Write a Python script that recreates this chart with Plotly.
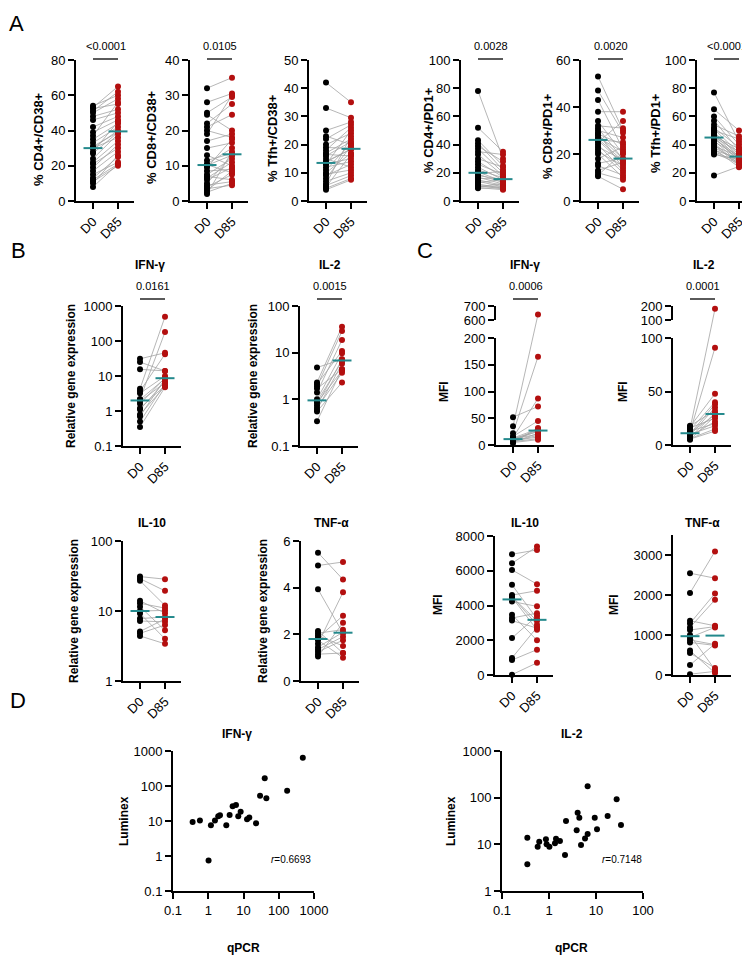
import numpy as np
import plotly.graph_objects as go

# ======================= DATA =======================
CATS = ["D0", "D85"]

# Panel A (flow cytometry, paired D0 -> D85)
A_CD4_CD38_D0 = [54, 53, 52.5, 51, 50, 48, 46, 42, 39, 37, 35, 33, 31, 30, 30, 28, 27, 24, 22, 21, 19, 17, 15, 13, 12, 11, 10, 8]
A_CD4_CD38_D85 = [60, 65, 55, 62, 58, 52, 50, 48, 46, 56, 44, 42, 39, 40, 36, 45, 39, 38, 34, 30, 32, 28, 22, 25, 21, 20, 26, 21]
A_CD8_CD38_D0 = [32, 28, 25, 24.5, 22, 21, 20, 19, 17, 15, 13, 11.5, 10.5, 10.3, 10.1, 9.5, 8.5, 7.5, 7, 6.5, 6, 5, 4.5, 4, 3.5, 3, 2.5, 2]
A_CD8_CD38_D85 = [35, 30.5, 29.5, 20, 27.5, 24.5, 18, 30, 19, 16.5, 10, 13.5, 15, 8, 13, 17.5, 9, 12, 6, 11, 9.5, 13.0, 5.5, 7.5, 4.5, 8.5, 5, 14]
A_TFH_CD38_D0 = [42, 33, 25, 23, 22, 20, 19, 18, 17, 16.5, 16, 15, 14, 13.8, 13.2, 13, 12, 11, 10, 9.5, 9, 8, 7, 6, 5.5, 5, 4.5, 4]
A_TFH_CD38_D85 = [35, 29.5, 28, 20, 27, 24, 18.6, 26, 22, 16, 21, 12, 18.4, 18.4, 15, 25, 14, 20.5, 17, 11, 13, 19.5, 10, 23, 9, 16.5, 8, 7.5]
A_CD4_PD1_D0 = [78, 52, 43, 41, 39, 37, 35, 33, 30, 28, 26, 24, 22, 20.5, 19.5, 19, 18, 17, 16, 15, 14, 13, 12, 11, 10.5, 10, 9.5, 9]
A_CD4_PD1_D85 = [30, 35, 25, 22, 28, 20, 33, 18, 24, 17, 19, 15, 16.5, 14, 21, 13, 15.4, 12, 15.6, 11, 10, 15.2, 9, 8.5, 10.5, 12.5, 8, 9.5]
A_CD8_PD1_D0 = [53, 47, 43, 38, 34, 32, 31, 30, 29, 28.5, 28, 27, 26.5, 26.2, 25.8, 25, 24, 23, 22, 21, 20, 18, 16, 15, 13, 12, 11, 10.5]
A_CD8_PD1_D85 = [30, 29, 22, 38, 20, 31, 17.8, 27, 14, 24, 17.9, 21, 17, 25, 16, 34, 13, 17.5, 12, 15, 10, 23, 18.2, 11, 16.5, 9, 20.5, 5]
A_TFH_PD1_D0 = [77, 65, 60, 57, 54, 52, 51, 50, 49, 48, 47, 46, 45.5, 45.2, 44.8, 44, 43, 42, 41, 40, 39, 38, 37, 36, 35, 34, 33, 18]
A_TFH_PD1_D85 = [42, 50, 40, 36, 46, 38, 34, 44, 31.4, 33, 30, 37, 28, 35, 29, 32, 27, 31.8, 26, 25, 31.6, 28.5, 24, 30.5, 27.5, 26.5, 29.5, 24.5]
A_YLABELS = ["% CD4+/CD38+", "% CD8+/CD38+", "% Tfh+/CD38+", "% CD4+/PD1+", "% CD8+/PD1+", "% Tfh+/PD1+"]
A_PVALUES = ["<0.0001", "0.0105", None, "0.0028", "0.0020", "<0.0001"]

# Panel B (qPCR relative gene expression)
B_IFNG_D0 = [31, 25, 15.5, 4.3, 3.7, 3.2, 2.2, 2.1, 1.9, 1.6, 1.2, 1.1, 0.8, 0.7, 0.5, 0.35]
B_IFNG_D85 = [46, 13.9, 14, 495, 42, 10, 180, 8.5, 6.4, 8.8, 5.3, 7, 5, 8.4, 6, 4.8]
B_IL2_D0 = [4.8, 2.3, 2.1, 1.9, 1.7, 1.4, 1.0, 0.9, 0.85, 0.75, 0.66, 0.6, 0.55, 0.34]
B_IL2_D85 = [7.2, 36, 10.9, 29, 4.4, 18.7, 9.7, 6.5, 4.1, 7.1, 3.7, 5.8, 2.3, 4.4]
B_IL10_D0 = [31, 29, 27, 14, 12.9, 11.5, 10, 9.2, 7.8, 7.2, 5.1, 4.8, 4.4]
B_IL10_D85 = [28.5, 19.4, 12, 9.3, 11, 5.3, 10.2, 4, 8.2, 7, 7.7, 6.3, 3.4]
B_TNFA_D0 = [5.5, 4.95, 3.93, 2.14, 2.05, 1.95, 1.85, 1.75, 1.6, 1.45, 1.35, 1.25, 1.15, 1.05]
B_TNFA_D85 = [4.35, 5.1, 2.05, 1.2, 2.2, 1.5, 2.8, 1.0, 3.8, 2.09, 1.9, 1.75, 1.2, 2.5]

# Panel C (Luminex MFI)
C_IFNG_D0 = [52, 35, 22, 16, 14, 13, 12, 11.5, 10.5, 9, 8, 7, 6, 5, 4.5, 4]
C_IFNG_D85 = [72, 640, 165, 45, 87, 30, 25, 20, 28, 26, 15, 18, 12, 22, 10, 32]
C_IL2_D0 = [18, 17, 16, 15, 14, 13, 12, 11.5, 10.5, 10, 9, 8, 7, 6, 5.5, 5]
C_IL2_D85 = [32, 48, 25, 180, 40, 20, 91, 28, 38, 18, 35, 22, 30, 15, 13, 27]
C_IL10_D0 = [6950, 6430, 6050, 5190, 4600, 4520, 4490, 4470, 4230, 3470, 3280, 3130, 2130, 980, 860, 20]
C_IL10_D85 = [7200, 7390, 5230, 3230, 4850, 2890, 3120, 2600, 3950, 2000, 3560, 2700, 3400, 2750, 1460, 700]
C_TNFA_D0 = [2545, 2050, 1357, 1290, 1190, 1125, 1000, 940, 875, 815, 610, 550, 250, 20]
C_TNFA_D85 = [2420, 3090, 1230, 2040, 1880, 1210, 130, 1190, 760, 740, 50, 175, 780, 90]

# Panel D (qPCR vs Luminex correlation)
D_IFNG_QPCR = [0.36, 0.58, 1.02, 1.19, 1.55, 1.92, 2.15, 3.25, 4.04, 4.92, 6.12, 7.1, 8.3, 12.6, 14.6, 22.7, 29.5, 40, 44.5, 173, 481]
D_IFNG_LUMINEX = [9.4, 10.4, 0.74, 7.5, 10.4, 13.6, 14.5, 7.5, 14.8, 26.2, 28.6, 13.6, 18.5, 11.2, 12.5, 8.6, 53, 166, 44.5, 73.6, 645]
D_IL2_QPCR = [0.346, 0.346, 0.574, 0.62, 0.86, 0.89, 1.02, 1.34, 1.41, 1.71, 2.19, 2.3, 3.88, 4.07, 4.42, 4.8, 5.84, 6.64, 6.64, 9.4, 10.5, 17.7, 27.5, 34]
D_IL2_LUMINEX = [13.9, 3.73, 8.9, 11.4, 12.8, 10, 8.9, 10.5, 13.2, 11.8, 5.9, 31.6, 20, 47.7, 37.3, 9.7, 13.4, 16.7, 175, 37.3, 21, 40.5, 92, 26]
D_R = ["0.6693", "0.7148"]

# ======================= STYLE / HELPERS =======================
W, H = 750, 965
FONT = "Liberation Sans, Arial, Helvetica, sans-serif"
RED = "#B30F0F"
TEAL = "#23898C"
GRAY = "#A3A3A3"
MS = 6
TICKSIZE = 13

AX = dict(showline=True, linecolor="black", linewidth=2, ticks="outside", ticklen=6,
          tickwidth=2, tickcolor="black", showgrid=False, zeroline=False,
          tickfont=dict(family=FONT, size=TICKSIZE, color="black"), fixedrange=True,
          automargin=False)

fig = go.Figure()
layout = {}
annots = []
shapes = []
cnt = {"x": 0, "y": 0}


def new_ax(k):
    cnt[k] += 1
    n = cnt[k]
    s = "" if n == 1 else str(n)
    return k + "axis" + s, k + s


def py(v):
    return 1 - v / H


def text(x, y, s, size=12, angle=0, xanchor="center", yanchor="middle", xref="paper"):
    annots.append(dict(x=x if xref != "paper" else x / W, y=py(y), xref=xref, yref="paper",
                       text=s, showarrow=False, textangle=angle,
                       font=dict(family=FONT, size=size, color="black"),
                       xanchor=xanchor, yanchor=yanchor))


def add_pairs(xr, yr, d0, d85, tf=lambda v: v):
    xs, ys = [], []
    for a, b in zip(d0, d85):
        xs += [0, 1, None]
        ys += [tf(a), tf(b), None]
    fig.add_trace(go.Scatter(x=xs, y=ys, mode="lines", line=dict(color=GRAY, width=0.8),
                             xaxis=xr, yaxis=yr, hoverinfo="skip"))
    fig.add_trace(go.Scatter(x=[0] * len(d0), y=[tf(v) for v in d0], mode="markers",
                             marker=dict(color="black", size=MS), cliponaxis=False,
                             xaxis=xr, yaxis=yr))
    fig.add_trace(go.Scatter(x=[1] * len(d85), y=[tf(v) for v in d85], mode="markers",
                             marker=dict(color=RED, size=MS), cliponaxis=False,
                             xaxis=xr, yaxis=yr))
    for xc, vals in ((0, d0), (1, d85)):
        m = tf(float(np.median(vals)))
        fig.add_trace(go.Scatter(x=[xc - 0.38, xc + 0.38], y=[m, m], mode="lines",
                                 line=dict(color=TEAL, width=2), cliponaxis=False,
                                 xaxis=xr, yaxis=yr, hoverinfo="skip"))


def x_axis(xn, yr, x0):
    layout[xn] = dict(AX, domain=[x0 / W, (x0 + 58) / W], anchor=yr, range=[-0.68, 1.64],
                      tickmode="array", tickvals=[0, 1], ticktext=CATS, tickangle=-45)


def sig(xr, pval, ptxt_y, bar_y):
    if pval is None:
        return
    shapes.append(dict(type="line", xref=xr, yref="paper", x0=0, x1=1, y0=py(bar_y), y1=py(bar_y),
                       line=dict(color="black", width=1.3)))
    text(0.5, ptxt_y, pval, size=11, xref=xr)


def paired_panel(x0, top, bottom, d0, d85, rng, ticks, ticktext=None, log=False,
                 pval=None, ptxt_y=None, bar_y=None):
    xn, xr = new_ax("x")
    yn, yr = new_ax("y")
    x_axis(xn, yr, x0)
    ydict = dict(AX, domain=[py(bottom), py(top)], anchor=xr, tickmode="array", tickvals=ticks)
    if ticktext:
        ydict["ticktext"] = ticktext
    if log:
        ydict.update(type="log", range=[np.log10(rng[0]), np.log10(rng[1])])
    else:
        ydict.update(range=rng)
    layout[yn] = ydict
    add_pairs(xr, yr, d0, d85)
    sig(xr, pval, ptxt_y, bar_y)


def broken_panel(x0, top_seg, bot_seg, top_rng, bot_rng, top_ticks, bot_ticks, d0, d85,
                 pval, ptxt_y, bar_y):
    xn, xr = new_ax("x")
    yd_n, yd_r = new_ax("y")
    yb_n, yb_r = new_ax("y")
    yt_n, yt_r = new_ax("y")
    total = bot_seg[1] - top_seg[0]

    def tf(v):
        if v <= bot_rng[1]:
            return (v - bot_rng[0]) / (bot_rng[1] - bot_rng[0]) * (bot_seg[1] - bot_seg[0])
        return (bot_seg[1] - top_seg[1]) + (v - top_rng[0]) / (top_rng[1] - top_rng[0]) * (top_seg[1] - top_seg[0])

    x_axis(xn, yb_r, x0)
    layout[yd_n] = dict(domain=[py(bot_seg[1]), py(top_seg[0])], range=[0, total], visible=False,
                        anchor=xr, fixedrange=True, showgrid=False, zeroline=False)
    layout[yb_n] = dict(AX, domain=[py(bot_seg[1]), py(bot_seg[0])], range=bot_rng, anchor=xr,
                        tickmode="array", tickvals=bot_ticks)
    layout[yt_n] = dict(AX, domain=[py(top_seg[1]), py(top_seg[0])], range=top_rng, anchor=xr,
                        tickmode="array", tickvals=top_ticks)
    for yy in (yb_r, yt_r):
        fig.add_trace(go.Scatter(x=[None], y=[None], mode="markers", xaxis=xr, yaxis=yy,
                                 hoverinfo="skip"))
    add_pairs(xr, yd_r, d0, d85, tf)
    sig(xr, pval, ptxt_y, bar_y)


def scatter_panel(x0, x1, top, bottom, xs, ys, xrng, yrng, r_txt, r_x, r_y):
    xn, xr = new_ax("x")
    yn, yr = new_ax("y")
    xt = [10.0 ** k for k in range(xrng[0], xrng[1] + 1)]
    yt = [10.0 ** k for k in range(yrng[0], yrng[1] + 1)]
    fmt = lambda v: ("%g" % v)
    layout[xn] = dict(AX, domain=[x0 / W, x1 / W], anchor=yr, type="log", range=list(xrng),
                      tickmode="array", tickvals=xt, ticktext=[fmt(v) for v in xt])
    layout[yn] = dict(AX, domain=[py(bottom), py(top)], anchor=xr, type="log", range=list(yrng),
                      tickmode="array", tickvals=yt, ticktext=[fmt(v) for v in yt])
    fig.add_trace(go.Scatter(x=xs, y=ys, mode="markers", marker=dict(color="black", size=MS),
                             cliponaxis=False, xaxis=xr, yaxis=yr))
    text(r_x, r_y, "<i>r</i>=" + r_txt, size=10)


# ======================= PANEL A =======================
A_DATA = [(A_CD4_CD38_D0, A_CD4_CD38_D85, [0, 80], [0, 20, 40, 60, 80]),
          (A_CD8_CD38_D0, A_CD8_CD38_D85, [0, 40], [0, 10, 20, 30, 40]),
          (A_TFH_CD38_D0, A_TFH_CD38_D85, [0, 50], [0, 10, 20, 30, 40, 50]),
          (A_CD4_PD1_D0, A_CD4_PD1_D85, [0, 100], [0, 20, 40, 60, 80, 100]),
          (A_CD8_PD1_D0, A_CD8_PD1_D85, [0, 60], [0, 20, 40, 60]),
          (A_TFH_PD1_D0, A_TFH_PD1_D85, [0, 100], [0, 20, 40, 60, 80, 100])]
A_X0 = [68, 182, 301, 453, 573, 689]
A_LAB_POS = [(31, 131), (143, 129), (264, 130), (421, 122), (540, 128), (647, 125)]
for i, (d0, d85, rng, tk) in enumerate(A_DATA):
    paired_panel(A_X0[i], 52, 193, d0, d85, rng, tk, pval=A_PVALUES[i], ptxt_y=38, bar_y=51)
    text(A_LAB_POS[i][0], A_LAB_POS[i][1], "<b>%s</b>" % A_YLABELS[i], size=13, angle=-90)

# ======================= PANEL B =======================
LOG_TXT = lambda vals: ["%g" % v for v in vals]
paired_panel(115, 298, 438, B_IFNG_D0, B_IFNG_D85, [0.1, 1000], [0.1, 1, 10, 100, 1000],
             LOG_TXT([0.1, 1, 10, 100, 1000]), log=True, pval="0.0161", ptxt_y=278, bar_y=291)
paired_panel(292, 298, 438, B_IL2_D0, B_IL2_D85, [0.1, 100], [0.1, 1, 10, 100],
             LOG_TXT([0.1, 1, 10, 100]), log=True, pval="0.0015", ptxt_y=278, bar_y=291)
paired_panel(115, 533, 673, B_IL10_D0, B_IL10_D85, [1, 100], [1, 10, 100],
             LOG_TXT([1, 10, 100]), log=True)
paired_panel(293, 533, 673, B_TNFA_D0, B_TNFA_D85, [0, 6], [0, 2, 4, 6])

# ======================= PANEL C =======================
broken_panel(488, (298, 312), (330, 437), [600, 700], [0, 200], [600, 700],
             [0, 50, 100, 150, 200], C_IFNG_D0, C_IFNG_D85, "0.0006", 278, 291)
broken_panel(665, (298, 312), (330, 437), [100, 200], [0, 100], [100, 200],
             [0, 50, 100], C_IL2_D0, C_IL2_D85, "0.0001", 278, 291)
paired_panel(487, 528, 667, C_IL10_D0, C_IL10_D85, [0, 8000], [0, 2000, 4000, 6000, 8000])
paired_panel(665, 527, 667, C_TNFA_D0, C_TNFA_D85, [0, 3500], [0, 1000, 2000, 3000])

# ======================= PANEL D =======================
D_TOP, D_BOT = 743, 883
scatter_panel(165, 306, D_TOP, D_BOT, D_IFNG_QPCR, D_IFNG_LUMINEX, (-1, 3), (-1, 3), D_R[0], 283, 851)
scatter_panel(494, 635, D_TOP, D_BOT, D_IL2_QPCR, D_IL2_LUMINEX, (-1, 2), (0, 3), D_R[1], 614, 851)

# ======================= TEXT =======================
for (x, y, s) in [(142, 257, "IFN-γ"), (322, 257, "IL-2"), (517, 257, "IFN-γ"), (696, 257, "IL-2"),
                  (144, 515, "IL-10"), (323, 515, "TNF-α"), (517, 515, "IL-10"), (694, 515, "TNF-α"),
                  (229, 726, "IFN-γ"), (564, 726, "IL-2")]:
    text(x, y, "<b>%s</b>" % s, size=12)

for (x, y, s) in [(63, 368, "Relative gene expression"), (245, 368, "Relative gene expression"),
                  (66, 603, "Relative gene expression"), (255, 603, "Relative gene expression"),
                  (436, 384, "MFI"), (615, 384, "MFI"), (430, 597, "MFI"), (606, 597, "MFI"),
                  (116, 813, "Luminex"), (443, 813, "Luminex")]:
    text(x, y, "<b>%s</b>" % s, size=12, angle=-90)

for (x, y) in [(235, 940), (563, 940)]:
    text(x, y, "<b>qPCR</b>", size=12)

for (x, y, s) in [(8, 15, "A"), (10, 243, "B"), (417, 243, "C"), (10, 692, "D")]:
    text(x, y, s, size=22)

fig.update_layout(width=W, height=H, margin=dict(l=0, r=0, t=0, b=0), template="none",
                  paper_bgcolor="white", plot_bgcolor="rgba(0,0,0,0)", showlegend=False,
                  annotations=annots, shapes=shapes, **layout)
fig.write_html("out.html")
